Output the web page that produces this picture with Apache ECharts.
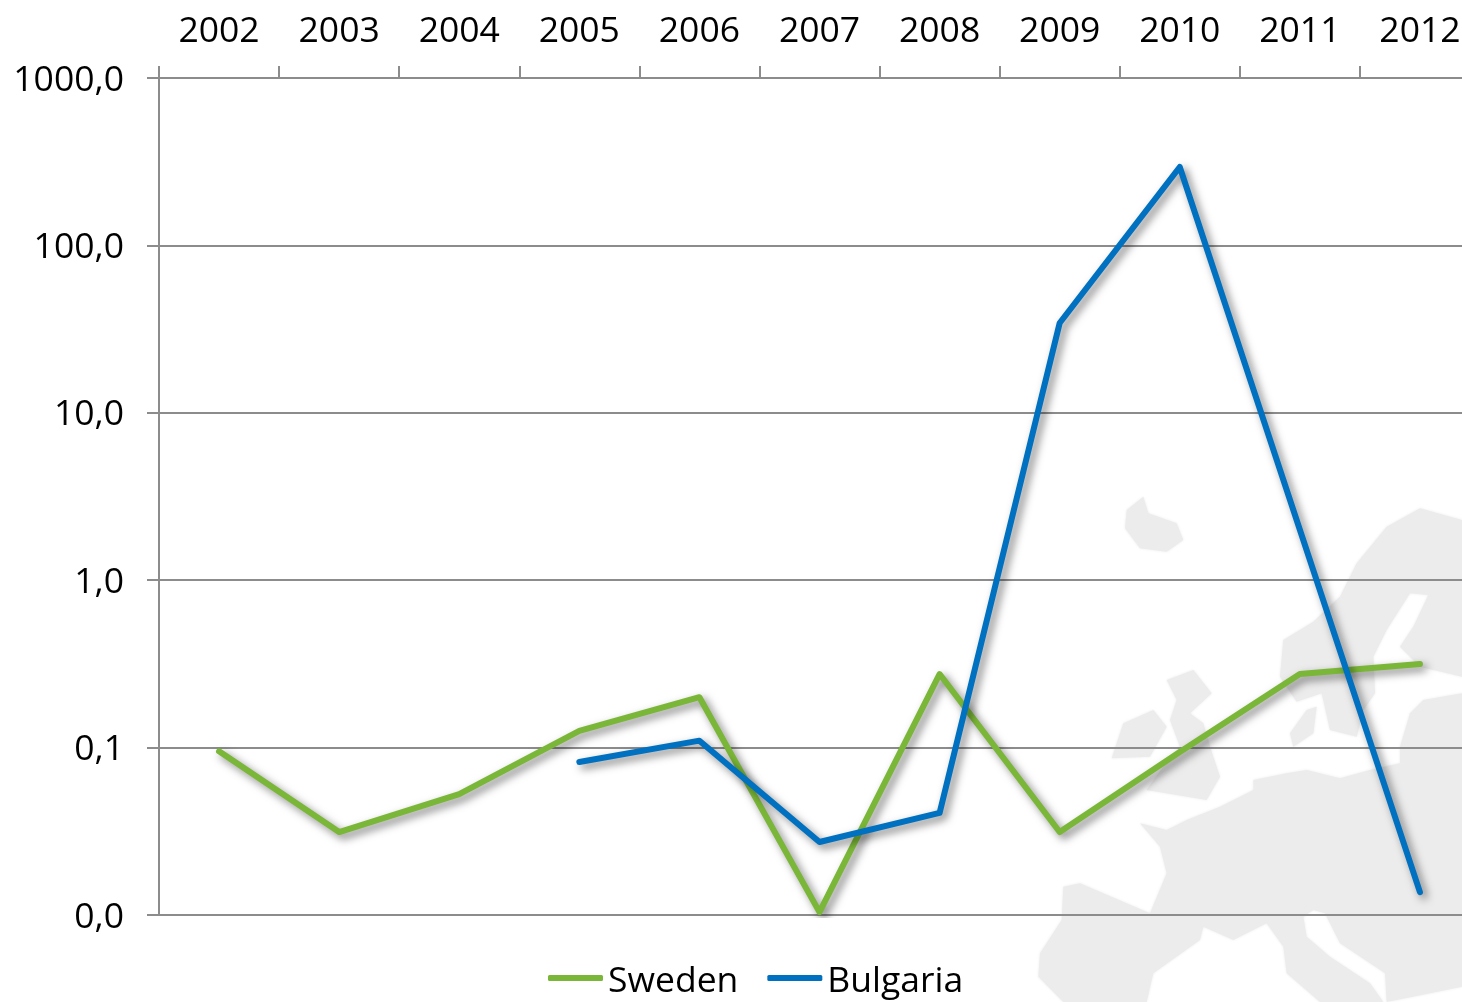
<!DOCTYPE html>
<html>
<head>
<meta charset="utf-8">
<style>
  html, body { margin: 0; padding: 0; background: #fff; overflow: hidden; }
  #chart { width: 1462px; height: 1002px; }
</style>
<script src="https://cdn.jsdelivr.net/npm/echarts@6/dist/echarts.min.js"></script>
</head>
<body>
<div id="chart"></div>
<script>
const years = ['2002', '2003', '2004', '2005', '2006', '2007', '2008', '2009', '2010', '2011', '2012']
const sweden = [0.095, 0.0313, 0.0528, 0.126, 0.2, 0.0104, 0.275, 0.0313, 0.094, 0.275, 0.316]
const bulgaria = [null, null, null, 0.082, 0.11, 0.0273, 0.0407, 34.4, 294, 2.0, 0.0137]

const fontName = '"Open Sans"'
const axisColor = '#8c8c8c'
const mapColor = '#ececec'

// 背景地图（装饰用），坐标取自参考图的放大裁剪
const mapShapes = [
  // Iceland
  [[320, 90], [370, 50], [385, 100], [470, 130], [490, 180], [440, 215], [360, 205], [315, 145]],
  // Scandinavia
  [[1326, 120], [1200, 85], [1100, 140], [1010, 250], [960, 350], [880, 425], [790, 480], [780, 590], [830, 665], [905, 640], [930, 750], [1010, 770], [1030, 690], [1065, 640], [1060, 530], [1100, 450], [1170, 340], [1225, 345], [1180, 440], [1140, 500], [1200, 560], [1326, 590]],
  // Denmark
  [[810, 760], [860, 690], [890, 680], [880, 760], [820, 800]],
  // Great Britain
  [[440, 600], [520, 570], [575, 640], [510, 700], [550, 730], [570, 800], [600, 890], [560, 960], [380, 930], [430, 860], [480, 800], [450, 720], [470, 660]],
  // Ireland
  [[310, 730], [400, 690], [440, 740], [390, 830], [275, 835]],
  // Baltics
  [[1326, 640], [1210, 660], [1170, 700], [1140, 800], [1140, 850], [1326, 850]],
  // Continent
  [[1326, 840], [1140, 850], [1050, 870], [960, 895], [860, 870], [800, 880], [700, 900], [700, 930], [600, 980], [500, 1020], [440, 1050], [360, 1030], [420, 1100], [440, 1180], [390, 1300], [180, 1210], [130, 1220], [125, 1320], [60, 1420], [55, 1490], [130, 1566], [380, 1566], [400, 1480], [540, 1380], [550, 1340], [640, 1380], [740, 1330], [790, 1400], [800, 1480], [900, 1566], [1090, 1566], [1050, 1510], [930, 1430], [860, 1370], [850, 1310], [880, 1290], [915, 1300], [960, 1390], [1095, 1480], [1100, 1566], [1230, 1540], [1326, 1520]]
]

const mapGraphics = mapShapes.map((pts) => ({
  type: 'polygon',
  silent: true,
  z: -10,
  shape: { points: pts.map(([x, y]) => [1020 + x / 3, 480 + y / 3]) },
  style: { fill: mapColor, shadowColor: mapColor, shadowBlur: 3 }
}))

const lineShadow = {
  width: 6,
  cap: 'round',
  join: 'round',
  shadowColor: 'rgba(0,0,0,0.5)',
  shadowBlur: 8,
  shadowOffsetX: 4,
  shadowOffsetY: 4
}

const chartInstance = echarts.init(document.getElementById('chart'))

chartInstance.setOption({
  animation: false,
  backgroundColor: '#fff',
  textStyle: { fontFamily: fontName },
  graphic: { elements: mapGraphics },
  grid: { left: 159, top: 78, width: 1321, height: 837, outerBoundsMode: 'none' },
  legend: {
    left: 548,
    top: 964,
    padding: 0,
    icon: 'roundRect',
    itemWidth: 55,
    itemHeight: 6,
    itemGap: 29,
    formatter: (name) => `{v|${name}}`,
    textStyle: {
      fontFamily: fontName,
      fontSize: 35.5,
      color: '#000',
      rich: { v: { fontFamily: fontName, fontSize: 35.5, color: '#000', padding: [8, 0, 0, 0] } }
    },
    data: ['Sweden', 'Bulgaria']
  },
  xAxis: {
    type: 'category',
    position: 'top',
    data: years,
    boundaryGap: true,
    axisLine: { lineStyle: { color: axisColor, width: 2 } },
    axisTick: { show: true, alignWithLabel: false, length: 12, lineStyle: { color: axisColor, width: 2 } },
    axisLabel: { interval: 0, fontSize: 35.5, color: '#000', margin: 28, fontFamily: fontName },
    splitLine: { show: false }
  },
  yAxis: {
    type: 'log',
    logBase: 10,
    min: 0.01,
    max: 1000,
    axisLine: { show: true, lineStyle: { color: axisColor, width: 2 } },
    axisTick: { show: true, length: 12, lineStyle: { color: axisColor, width: 2 } },
    minorTick: { show: false },
    splitLine: { show: true, lineStyle: { color: axisColor, width: 2 } },
    axisLabel: {
      margin: 35,
      formatter: (value) => `{v|${value.toFixed(1).replace('.', ',')}}`,
      rich: { v: { fontFamily: fontName, fontSize: 35.5, color: '#000', padding: [5, 0, 0, 0] } }
    }
  },
  series: [
    {
      name: 'Sweden',
      type: 'line',
      data: sweden,
      showSymbol: false,
      symbol: 'none',
      color: '#7ab637',
      lineStyle: lineShadow
    },
    {
      name: 'Bulgaria',
      type: 'line',
      data: bulgaria,
      showSymbol: false,
      symbol: 'none',
      color: '#0070c0',
      lineStyle: lineShadow
    }
  ]
})
</script>
</body>
</html>
